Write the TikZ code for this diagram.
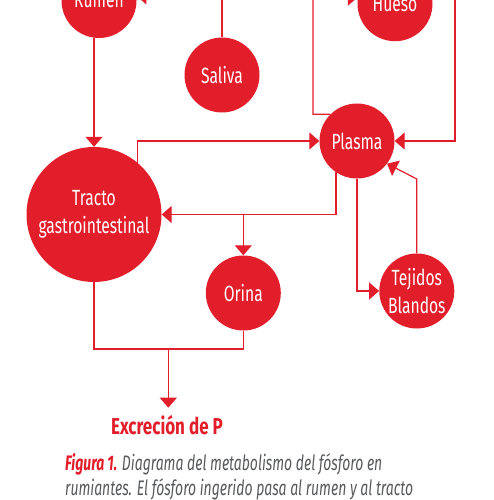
\documentclass[tikz,border=0pt]{standalone}
\usepackage{fontspec}
\usetikzlibrary{arrows.meta,calc}
\newfontfamily\condf[FakeStretch=0.71]{Fira Sans}
\newfontfamily\excf[FakeStretch=0.74]{Fira Sans}
\newfontfamily\capf[FakeStretch=0.665]{Fira Sans}
\definecolor{dred}{HTML}{E31E2B}
\definecolor{capgray}{HTML}{58595B}
\tikzset{
  bubble/.style={circle, fill=dred, text=white, minimum size=75pt, inner sep=0pt,
    align=center, font=\condf\fontsize{22}{28.5}\selectfont},
  bigbubble/.style={bubble, minimum size=135pt},
  conn/.style={draw=dred, line width=1.2pt},
  arr/.style={conn, -{Triangle[length=10pt,width=17pt]}},
}
\begin{document}
\begin{tikzpicture}[x=1pt,y=-1pt]
\useasboundingbox (0,0) rectangle (493,500);
\begin{scope}
\clip (0,0) rectangle (493,500);
\node[bubble] (Rumen) at (99,0.5) {Rumen};
\node[bubble] (Saliva) at (222,75) {Saliva};
\node[bubble] (Hueso) at (395,3.7) {Hueso};
\node[bubble] (Plasma) at (357,141) {Plasma};
\node[bigbubble] (Tracto) at (94,214.5) {Tracto\\gastrointestinal};
\node[bubble] (Orina) at (243.3,293) {Orina};
\node[bubble] (Tejidos) at (416.8,291) {Tejidos\\Blandos};

\coordinate (hb) at (313,-3);
\coordinate (rr) at (455,141);
\coordinate (tj) at (416.8,179);
\coordinate (ex) at (168.3,349);
\coordinate (exo) at (243.3,349);
\coordinate (orb) at (243.3,214.5);

\draw[arr] (Saliva.north) |- (Rumen.7);
\draw[arr] (Rumen.south -| Tracto.north) -- (Tracto.north);
\draw[arr] (Plasma.135) -| (hb) -- (Hueso.170);
\draw[arr] (Hueso.10) -| (rr) -- (Plasma.east);
\draw[arr] (Tracto.50) |- (Plasma.west);
\draw[arr] (Plasma.236.5) |- (Tracto.east);
\draw[arr] (orb) -- (Orina.north);
\draw[arr] (Plasma.south) |- (Tejidos.west);
\draw[arr] (Tejidos.north) -- (tj) -- (Plasma.-37.5);
\draw[conn] (Tracto.south) |- (exo) -- (Orina.south);
\draw[arr] (ex) -- (168.3,407.7) coordinate (extip);
\node[anchor=base, text=dred, font=\excf\bfseries\fontsize{23}{26}\selectfont] (exc) at (167,434) {Excreción de P};
\node[anchor=base west, inner sep=0pt, text=capgray, font=\capf\itshape\fontsize{21}{25}\selectfont] (cap1) at (65,470)
  {\textcolor{dred}{\bfseries Figura 1.} Diagrama del metabolismo del fósforo en};
\node[anchor=base west, inner sep=0pt, text=capgray, font=\capf\itshape\fontsize{21}{25}\selectfont] (cap2) at (65,495)
  {rumiantes. El fósforo ingerido pasa al rumen y al tracto};
\end{scope}
\end{tikzpicture}
\end{document}
